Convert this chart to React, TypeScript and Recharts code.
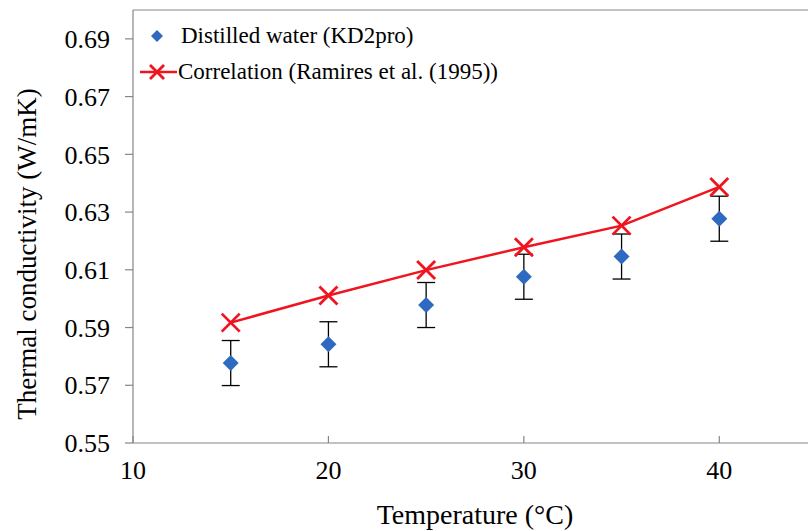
import React from "react";
import {
  ComposedChart,
  Line,
  Scatter,
  XAxis,
  YAxis,
  ErrorBar,
  ReferenceLine,
  Label,
} from "recharts";

const temperatures = [15, 20, 25, 30, 35, 40];
const measured = [0.5777, 0.5842, 0.5978, 0.6076, 0.6146, 0.6277];
const measuredError = [0.0078, 0.0078, 0.0078, 0.0078, 0.0078, 0.0078];
const correlation = [0.5917, 0.6011, 0.6099, 0.6178, 0.6253, 0.6387];
const xTicks = [10, 20, 30, 40];
const yTicks = [0.55, 0.57, 0.59, 0.61, 0.63, 0.65, 0.67, 0.69];

const measuredData = temperatures.map((t, i) => ({ t, k: measured[i], err: measuredError[i] }));
const correlationData = temperatures.map((t, i) => ({ t, c: correlation[i] }));

const FONT = "Liberation Serif, serif";
const BLUE = "#2E6BC0";
const RED = "#F0141E";
const AXIS = "#868686";

const Diamond = (props: any) => {
  const { cx, cy } = props;
  if (cx == null || cy == null) return null;
  const w = 8, h = 8;
  return <polygon points={`${cx},${cy - h} ${cx + w},${cy} ${cx},${cy + h} ${cx - w},${cy}`} fill={BLUE} />;
};

const Cross = (props: any) => {
  const { cx, cy } = props;
  if (cx == null || cy == null) return null;
  const s = 9;
  return (
    <g key={`x-${cx}`}>
      <line x1={cx - s} y1={cy - s} x2={cx + s} y2={cy + s} stroke={RED} strokeWidth={2.8} />
      <line x1={cx - s} y1={cy + s} x2={cx + s} y2={cy - s} stroke={RED} strokeWidth={2.8} />
    </g>
  );
};

const XTick = (props: any) => {
  const { x, y, payload } = props;
  return (
    <g>
      <line x1={x} y1={y} x2={x} y2={y - 7} stroke={AXIS} strokeWidth={1.2} />
      <text x={x} y={y + 36} textAnchor="middle" fontFamily={FONT} fontSize={26} fill="#000">
        {payload.value}
      </text>
    </g>
  );
};

const LegendBox = () => (
  <div
    style={{
      position: "absolute",
      left: 140,
      top: 18,
      fontFamily: FONT,
      fontSize: 23,
      color: "#000",
      lineHeight: "36px",
      whiteSpace: "nowrap",
    }}
  >
    <div style={{ display: "flex", alignItems: "center", height: 36 }}>
      <svg width={41} height={36}>
        <polygon points="17,12 23,18 17,24 11,18" fill={BLUE} />
      </svg>
      <span>Distilled water (KD2pro)</span>
    </div>
    <div style={{ display: "flex", alignItems: "center", height: 36 }}>
      <svg width={38} height={36}>
        <line x1={0} y1={18} x2={37} y2={18} stroke={RED} strokeWidth={2.5} />
        <line x1={10} y1={11} x2={24} y2={25} stroke={RED} strokeWidth={2.8} />
        <line x1={10} y1={25} x2={24} y2={11} stroke={RED} strokeWidth={2.8} />
      </svg>
      <span>Correlation (Ramires et al. (1995))</span>
    </div>
  </div>
);

export default function App() {
  return (
    <div style={{ position: "absolute", left: 0, top: 0, width: 808, height: 531, overflow: "hidden", background: "#fff" }}>
      <ComposedChart width={822} height={531} margin={{ top: 10, right: 5, left: 0, bottom: 0 }}>
        <XAxis
          type="number"
          dataKey="t"
          domain={[10, 45]}
          ticks={xTicks}
          allowDataOverflow
          stroke={AXIS}
          strokeWidth={1.2}
          tickLine={false}
          tickSize={0}
          tickMargin={0}
          tick={<XTick />}
          height={88}
        >
          <Label
            value="Temperature (°C)"
            position="insideBottom"
            offset={7}
            style={{ fontFamily: FONT, fontSize: 28, fill: "#000" }}
          />
        </XAxis>
        <YAxis
          type="number"
          domain={[0.55, 0.7]}
          ticks={yTicks}
          allowDataOverflow
          width={133}
          stroke={AXIS}
          strokeWidth={1.2}
          tickSize={8}
          tickMargin={15}
          tickFormatter={(v: number) => v.toFixed(2)}
          tick={{ fontFamily: FONT, fontSize: 26, fill: "#000" }}
        >
          <Label
            content={() => (
              <text
                x={30}
                y={254}
                transform="rotate(-90, 30, 254)"
                textAnchor="middle"
                dominantBaseline="middle"
                fontFamily={FONT}
                fontSize={27}
                fill="#000"
              >
                Thermal conductivity (W/mK)
              </text>
            )}
          />
        </YAxis>
        <ReferenceLine y={0.7} stroke={AXIS} strokeWidth={1.2} ifOverflow="extendDomain" />
        <Scatter data={measuredData} dataKey="k" shape={<Diamond />} isAnimationActive={false}>
          <ErrorBar dataKey="err" direction="y" width={9} stroke="#000" strokeWidth={1.3} />
        </Scatter>
        <Line
          data={correlationData}
          dataKey="c"
          stroke={RED}
          strokeWidth={2.5}
          dot={<Cross />}
          activeDot={false}
          isAnimationActive={false}
        />
      </ComposedChart>
      <LegendBox />
    </div>
  );
}
